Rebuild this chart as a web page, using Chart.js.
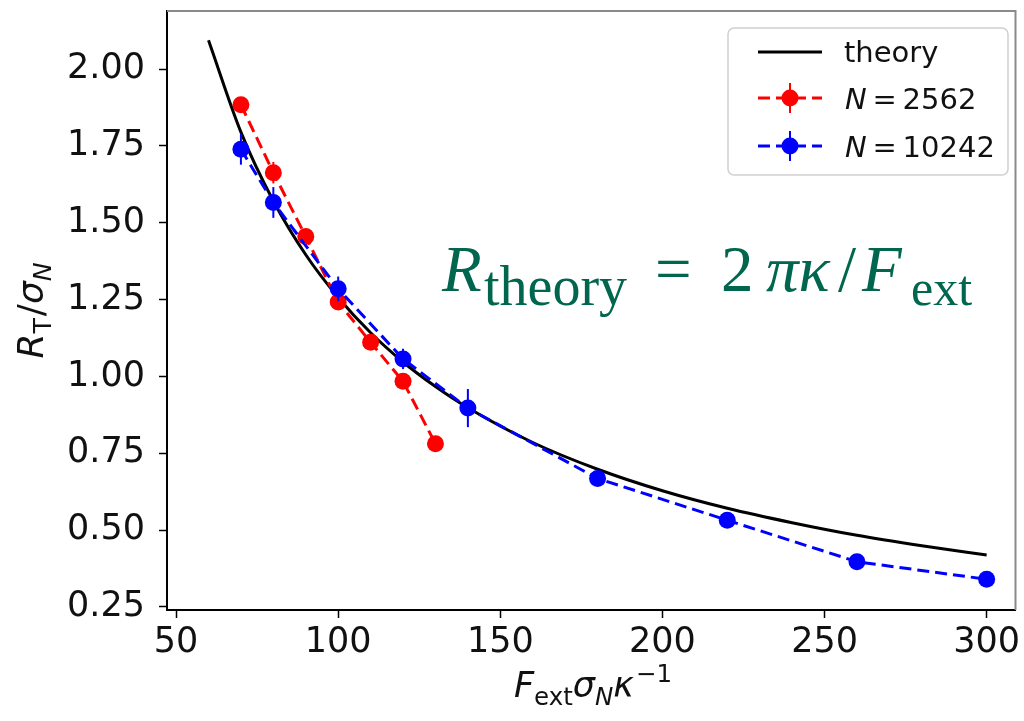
<!DOCTYPE html>
<html>
<head>
<meta charset="utf-8">
<script src="https://cdn.jsdelivr.net/npm/chart.js@4.4.1/dist/chart.umd.min.js"></script>
<style>
  html, body { margin: 0; padding: 0; background: #fff; }
  #wrap { width: 1024px; height: 721px; }
</style>
</head>
<body>
<div id="wrap"><canvas id="fig" width="1024" height="721"></canvas></div>
<script>
// axis ticks
const xTicks = [50, 100, 150, 200, 250, 300];
const yTicks = [0.25, 0.5, 0.75, 1.0, 1.25, 1.5, 1.75, 2.0];

// theory curve R = 2*pi*kappa/F_ext
const theoryF = [60, 70, 80, 90, 100, 110, 120, 130, 140, 160, 180, 200, 220, 240, 260, 280, 300];
const theoryR = [2.094, 1.795, 1.571, 1.396, 1.257, 1.142, 1.047, 0.967, 0.898, 0.785, 0.698, 0.628, 0.571, 0.524, 0.483, 0.449, 0.419];

// N = 2562
const smallF = [70, 80, 90, 100, 110, 120, 130];
const smallR = [1.884, 1.663, 1.455, 1.242, 1.111, 0.984, 0.781];
const smallErr = [0.02, 0.035, 0.025, 0.02, 0.02, 0.02, 0.015];

// N = 10242
const largeF = [70, 80, 100, 120, 140, 180, 220, 260, 300];
const largeR = [1.739, 1.566, 1.285, 1.057, 0.897, 0.668, 0.532, 0.397, 0.340];
const largeErr = [0.05, 0.05, 0.04, 0.033, 0.062, 0.02, 0.02, 0.015, 0.015];

const SANS = '"DejaVu Sans"';
const SERIF = '"Liberation Serif"';
const toPts = (xs, ys) => xs.map((x, i) => ({ x: x, y: ys[i] }));

// draw a run of text pieces (italic / sub / sup), used for the math labels
function mathText(ctx, parts, x, y, size, family, align) {
    const fontOf = p => {
        const s = p.size || (p.pos ? size * 0.7 : size);
        return (p.it ? 'italic ' : '') + s + 'px ' + family;
    };
    const widths = parts.map(p => { ctx.font = fontOf(p); return ctx.measureText(p.t).width + (p.gap || 0); });
    const total = widths.reduce((a, b) => a + b, 0);
    let cx = align === 'center' ? x - total / 2 : x;
    ctx.textBaseline = 'alphabetic';
    ctx.textAlign = 'left';
    parts.forEach((p, i) => {
        ctx.font = fontOf(p);
        let dy = p.dy || 0;
        if (p.pos === 'sub' && p.dy === undefined) dy = size * 0.22;
        if (p.pos === 'sup') dy = -size * 0.42;
        if (p.at !== undefined) cx = p.at;
        ctx.fillText(p.t, cx, y + dy);
        cx += widths[i];
    });
    return total;
}

// drop the label overhang padding so the plot frame sits where the layout says
const noPad = s => {
    s.paddingTop = 0; s.paddingBottom = 0; s.paddingLeft = 0; s.paddingRight = 0;
};

const decorations = {
    id: 'decorations',
    afterDatasetsDraw(chart) {
        const ctx = chart.ctx;
        const xs = chart.scales.x, ys = chart.scales.y;
        // error bars
        const bars = [[smallF, smallR, smallErr, '#ff0000'], [largeF, largeR, largeErr, '#0000ff']];
        bars.forEach(([fs, rs, es, col]) => {
            ctx.save();
            ctx.strokeStyle = col;
            ctx.lineWidth = 2;
            fs.forEach((f, i) => {
                const px = xs.getPixelForValue(f);
                ctx.beginPath();
                ctx.moveTo(px, ys.getPixelForValue(rs[i] - es[i]));
                ctx.lineTo(px, ys.getPixelForValue(rs[i] + es[i]));
                ctx.stroke();
            });
            ctx.restore();
        });
    },
    afterDraw(chart) {
        const ctx = chart.ctx;
        const a = chart.chartArea;
        ctx.save();
        // top and right spines
        ctx.strokeStyle = '#8a8a8a';
        ctx.lineWidth = 2;
        ctx.beginPath();
        ctx.moveTo(a.left, a.top);
        ctx.lineTo(a.right, a.top);
        ctx.lineTo(a.right, a.bottom);
        ctx.stroke();

        // legend
        ctx.fillStyle = 'rgba(255,255,255,0.9)';
        ctx.strokeStyle = '#d0d0d0';
        ctx.lineWidth = 1.5;
        ctx.beginPath();
        ctx.roundRect(728, 28, 280, 147, 6);
        ctx.fill();
        ctx.stroke();

        ctx.strokeStyle = '#000';
        ctx.lineWidth = 3;
        ctx.beginPath();
        ctx.moveTo(758, 52);
        ctx.lineTo(822, 52);
        ctx.stroke();

        [[98, '#ff0000'], [146, '#0000ff']].forEach(([ly, col]) => {
            ctx.strokeStyle = col;
            ctx.fillStyle = col;
            ctx.lineWidth = 3;
            ctx.setLineDash([12, 6]);
            ctx.beginPath();
            ctx.moveTo(758, ly);
            ctx.lineTo(822, ly);
            ctx.stroke();
            ctx.setLineDash([]);
            ctx.lineWidth = 2;
            ctx.beginPath();
            ctx.moveTo(790, ly - 15);
            ctx.lineTo(790, ly + 15);
            ctx.stroke();
            ctx.beginPath();
            ctx.arc(790, ly, 8.5, 0, Math.PI * 2);
            ctx.fill();
        });

        ctx.fillStyle = '#111';
        mathText(ctx, [{ t: 'theory' }], 844, 62, 29, SANS);
        mathText(ctx, [{ t: 'N', it: true }, { t: '\u2009=\u20092562' }], 845, 109, 29, SANS);
        mathText(ctx, [{ t: 'N', it: true }, { t: '\u2009=\u200910242' }], 845, 157, 29, SANS);

        // axis titles
        mathText(ctx, [
            { t: 'F', it: true }, { t: 'ext', pos: 'sub' }, { t: 'σ', it: true },
            { t: 'N', it: true, pos: 'sub' }, { t: 'κ', it: true, gap: 2 }, { t: '−1', pos: 'sup' }
        ], 593, 697, 35, SANS, 'center');

        ctx.save();
        ctx.translate(43, (a.top + a.bottom) / 2);
        ctx.rotate(-Math.PI / 2);
        mathText(ctx, [
            { t: 'R', it: true }, { t: 'T', pos: 'sub', gap: 2 }, { t: '/' },
            { t: 'σ', it: true }, { t: 'N', it: true, pos: 'sub' }
        ], 0, 0, 36, SANS, 'center');
        ctx.restore();

        // formula annotation
        ctx.fillStyle = '#00664e';
        mathText(ctx, [
            { t: 'R', it: true, at: 442 },
            { t: 'theory', pos: 'sub', size: 56, dy: 14, at: 484 },
            { t: '=', at: 655 },
            { t: '2', at: 721 },
            { t: 'πκ', it: true, at: 766 },
            { t: '/', at: 838 },
            { t: 'F', it: true, at: 862 },
            { t: 'ext', pos: 'sub', size: 50, dy: 14, at: 911 }
        ], 442, 291, 65, SERIF);
        ctx.restore();
    }
};

new Chart(document.getElementById('fig'), {
    type: 'scatter',
    data: {
        datasets: [
            {
                label: 'theory',
                data: toPts(theoryF, theoryR),
                showLine: true,
                borderColor: '#000',
                borderWidth: 3,
                pointRadius: 0,
                cubicInterpolationMode: 'monotone',
                order: 3
            },
            {
                label: 'N = 2562',
                data: toPts(smallF, smallR),
                showLine: true,
                borderColor: '#ff0000',
                backgroundColor: '#ff0000',
                borderWidth: 3,
                borderDash: [12, 6],
                pointRadius: 8.5,
                pointBorderWidth: 0,
                order: 2
            },
            {
                label: 'N = 10242',
                data: toPts(largeF, largeR),
                showLine: true,
                borderColor: '#0000ff',
                backgroundColor: '#0000ff',
                borderWidth: 3,
                borderDash: [12, 6],
                pointRadius: 8.5,
                pointBorderWidth: 0,
                order: 1
            }
        ]
    },
    options: {
        responsive: false,
        animation: false,
        devicePixelRatio: 1,
        layout: { padding: { top: 11, right: 0, left: 0, bottom: 0 } },
        plugins: { legend: { display: false }, tooltip: { enabled: false } },
        scales: {
            x: {
                type: 'linear',
                min: 47.2,
                max: 308.9,
                afterBuildTicks: s => { s.ticks = xTicks.map(v => ({ value: v })); },
                afterFit: s => { s.height = 111; noPad(s); },
                grid: { drawOnChartArea: false, tickLength: 8, tickColor: '#000', tickWidth: 1.5 },
                border: { display: true, color: '#000', width: 2 },
                ticks: {
                    font: { family: SANS, size: 35 },
                    color: '#111',
                    padding: 4,
                    maxRotation: 0,
                    autoSkip: false,
                    callback: v => String(v)
                }
            },
            y: {
                type: 'linear',
                min: 0.24,
                max: 2.189,
                afterBuildTicks: s => { s.ticks = yTicks.map(v => ({ value: v })); },
                afterFit: s => { s.width = 167; noPad(s); },
                grid: { drawOnChartArea: false, tickLength: 8, tickColor: '#000', tickWidth: 1.5 },
                border: { display: true, color: '#000', width: 2 },
                ticks: {
                    font: { family: SANS, size: 35 },
                    color: '#111',
                    padding: 14,
                    autoSkip: false,
                    callback: v => v.toFixed(2)
                }
            }
        }
    },
    plugins: [decorations]
});
</script>
</body>
</html>
